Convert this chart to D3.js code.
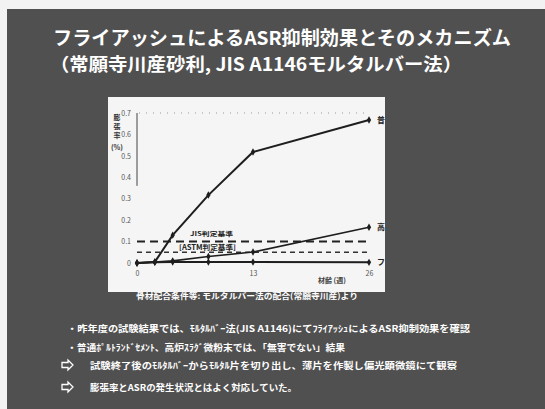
<!DOCTYPE html>
<html lang="ja">
<head>
<meta charset="utf-8">
<script src="https://cdn.jsdelivr.net/npm/d3@7"></script>
<style>
  html, body { margin: 0; padding: 0; background: #f2f2f2; }
  svg { display: block; }
  text { font-family: "Noto Sans CJK JP", "Noto Sans", sans-serif; }
</style>
</head>
<body>
<svg id="slide" width="545" height="409"></svg>
<script>
// Test period (weeks) and mortar-bar expansion (%) for each binder
const weeks = [0, 2, 4, 8, 13, 26];
const expFutsu = [0, 0.005, 0.13, 0.317, 0.518, 0.667];   // 普通ポルトランドセメント
const expKouro = [0, 0.005, 0.01, 0.03, 0.051, 0.167];    // 高炉スラグ微粉末
const expFA    = [0, 0.004, 0.005, 0.005, 0.005, 0.003];  // フライアッシュ
const seriesNames = ["普通", "高炉", "フライ"];
const criteria = [0.1, 0.05];
const criteriaNames = ["JIS判定基準", "[ASTM判定基準]"];
const yTicks = [0, 0.1, 0.2, 0.3, 0.4, 0.5, 0.6, 0.7];
const yTickLabels = ["0", "0.1", "0.2", "0.3", "0.4", "0.5", "0.6", "0.7"];
const xTicks = [0, 13, 26];

const titleLines = [
  "フライアッシュによるASR抑制効果とそのメカニズム",
  "（常願寺川産砂利, JIS A1146モルタルバー法）"
];
const caption = "骨材配合条件等: モルタルバー法の配合(常願寺川産)より";
const bullets = [
  "・昨年度の試験結果では、ﾓﾙﾀﾙﾊﾞｰ法(JIS A1146)にてﾌﾗｲｱｯｼｭによるASR抑制効果を確認",
  "・普通ﾎﾟﾙﾄﾗﾝﾄﾞｾﾒﾝﾄ、高炉ｽﾗｸﾞ微粉末では、「無害でない」結果",
  "試験終了後のﾓﾙﾀﾙﾊﾞｰからﾓﾙﾀﾙ片を切り出し、薄片を作製し偏光顕微鏡にて観察",
  "膨張率とASRの発生状況とはよく対応していた。"
];

const svg = d3.select("#slide");

// slide background
svg.append("rect").attr("x", 7).attr("y", 9).attr("width", 538).attr("height", 400)
  .attr("fill", "#505050");

// title
const titleG = svg.append("g").attr("fill", "#ffffff").attr("font-weight", "bold");
titleG.append("text").attr("x", 53).attr("y", 45).attr("font-size", 19)
  .attr("textLength", 458).attr("lengthAdjust", "spacingAndGlyphs").text(titleLines[0]);
titleG.append("text").attr("x", 50).attr("y", 71).attr("font-size", 18)
  .attr("textLength", 412).attr("lengthAdjust", "spacingAndGlyphs").text(titleLines[1]);

// chart panel
svg.append("rect").attr("x", 108).attr("y", 97).attr("width", 277).attr("height", 195)
  .attr("fill", "#f5f5f5");
svg.append("clipPath").attr("id", "panelClip")
  .append("rect").attr("x", 108).attr("y", 97).attr("width", 277).attr("height", 195);

const x = d3.scaleLinear().domain([0, 26]).range([137, 369]);
const y = d3.scaleLinear().domain([0, 0.7]).range([263, 113]);

const chart = svg.append("g").attr("clip-path", "url(#panelClip)");

// y axis labels
const yAxis = d3.axisLeft(y).tickValues(yTicks).tickSize(0).tickPadding(0)
  .tickFormat((d, i) => yTickLabels[i]);
const yg = chart.append("g").attr("transform", "translate(131,0)").call(yAxis);
yg.select(".domain").remove();
yg.selectAll("text").attr("font-size", 7).attr("fill", "#555").attr("font-family", "Liberation Sans, sans-serif");

// x axis labels
const xAxis = d3.axisBottom(x).tickValues(xTicks).tickSize(0).tickPadding(0);
const xg = chart.append("g").attr("transform", "translate(0,271)").call(xAxis);
xg.select(".domain").remove();
xg.selectAll("text").attr("font-size", 7).attr("fill", "#555").attr("font-family", "Liberation Sans, sans-serif");

// axis titles
chart.append("text").attr("x", 318).attr("y", 283).attr("font-size", 7)
  .attr("font-weight", "bold").attr("fill", "#444").text("材齢 (週)");
const ytitle = chart.append("g").attr("font-size", 7).attr("font-weight", "bold").attr("fill", "#333")
  .attr("text-anchor", "middle");
["膨", "張", "率"].forEach((c, i) => ytitle.append("text").attr("x", 117).attr("y", 120 + i * 9).text(c));
ytitle.append("text").attr("x", 117).attr("y", 150).text("(%)");

// top gridline and partial left axis line
chart.append("line").attr("x1", x(0) + 2).attr("x2", x(26)).attr("y1", y(0.7)).attr("y2", y(0.7))
  .attr("stroke", "#999").attr("stroke-width", 1).attr("stroke-dasharray", "1,6");
chart.append("line").attr("x1", x(0)).attr("x2", x(0)).attr("y1", y(0.7)).attr("y2", y(0.36))
  .attr("stroke", "#444").attr("stroke-width", 1);

// criterion lines
chart.append("line").attr("x1", x(0)).attr("x2", x(26)).attr("y1", y(criteria[0])).attr("y2", y(criteria[0]))
  .attr("stroke", "#222").attr("stroke-width", 2).attr("stroke-dasharray", "8,5");
chart.append("line").attr("x1", x(0)).attr("x2", x(26)).attr("y1", y(criteria[1])).attr("y2", y(criteria[1]))
  .attr("stroke", "#333").attr("stroke-width", 1.5).attr("stroke-dasharray", "5,4");

// criterion labels
chart.append("text").attr("x", 190).attr("y", 236).attr("font-size", 6).attr("font-weight", "bold")
  .attr("fill", "#222").attr("textLength", 43).attr("lengthAdjust", "spacingAndGlyphs").text(criteriaNames[0]);
chart.append("rect").attr("x", 178).attr("y", 243).attr("width", 58).attr("height", 8).attr("fill", "#f5f5f5");
chart.append("text").attr("x", 179).attr("y", 249.5).attr("font-size", 7).attr("font-weight", "bold")
  .attr("fill", "#222").attr("textLength", 57).attr("lengthAdjust", "spacingAndGlyphs").text(criteriaNames[1]);

// expansion curves
const series = [expFutsu, expKouro, expFA];
const widths = [2, 1.6, 2];
const line = d3.line().x((d, i) => x(weeks[i])).y(d => y(d));
series.forEach((vals, k) => {
  chart.append("path").datum(vals).attr("d", line).attr("fill", "none")
    .attr("stroke", "#1e1e1e").attr("stroke-width", widths[k]);
  chart.selectAll(null).data(vals).enter().append("path")
    .attr("d", d3.symbol(d3.symbolDiamond, 16))
    .attr("transform", (d, i) => `translate(${x(weeks[i])},${y(d)})`)
    .attr("fill", "#1e1e1e");
  chart.append("text").attr("x", x(26) + 8).attr("y", y(vals[vals.length - 1]) + 3)
    .attr("font-size", 8).attr("font-weight", "bold").attr("fill", "#222").text(seriesNames[k]);
});

// caption under the panel
svg.append("text").attr("x", 136).attr("y", 299).attr("font-size", 8).attr("font-weight", "bold")
  .attr("fill", "#fff").attr("textLength", 222).attr("lengthAdjust", "spacingAndGlyphs").text(caption);

// bullet notes
const notes = svg.append("g").attr("fill", "#fff").attr("font-weight", "bold").attr("font-size", 9);
notes.append("text").attr("x", 67).attr("y", 332).attr("textLength", 403)
  .attr("lengthAdjust", "spacingAndGlyphs").text(bullets[0]);
notes.append("text").attr("x", 67).attr("y", 351).attr("textLength", 278)
  .attr("lengthAdjust", "spacingAndGlyphs").text(bullets[1]);
notes.append("text").attr("x", 90).attr("y", 369).attr("textLength", 367)
  .attr("lengthAdjust", "spacingAndGlyphs").text(bullets[2]);
notes.append("text").attr("x", 90).attr("y", 391).attr("textLength", 207)
  .attr("lengthAdjust", "spacingAndGlyphs").text(bullets[3]);

// arrow marks before the conclusions
[365, 387].forEach(cy => {
  const a = svg.append("g").attr("transform", `translate(62,${cy})`);
  a.append("path").attr("d", "M0,-2.5 L6,-2.5 L6,-5 L11,0 L6,5 L6,2.5 L0,2.5 Z")
    .attr("fill", "none").attr("stroke", "#fff").attr("stroke-width", 1.3);
});
</script>
</body>
</html>
